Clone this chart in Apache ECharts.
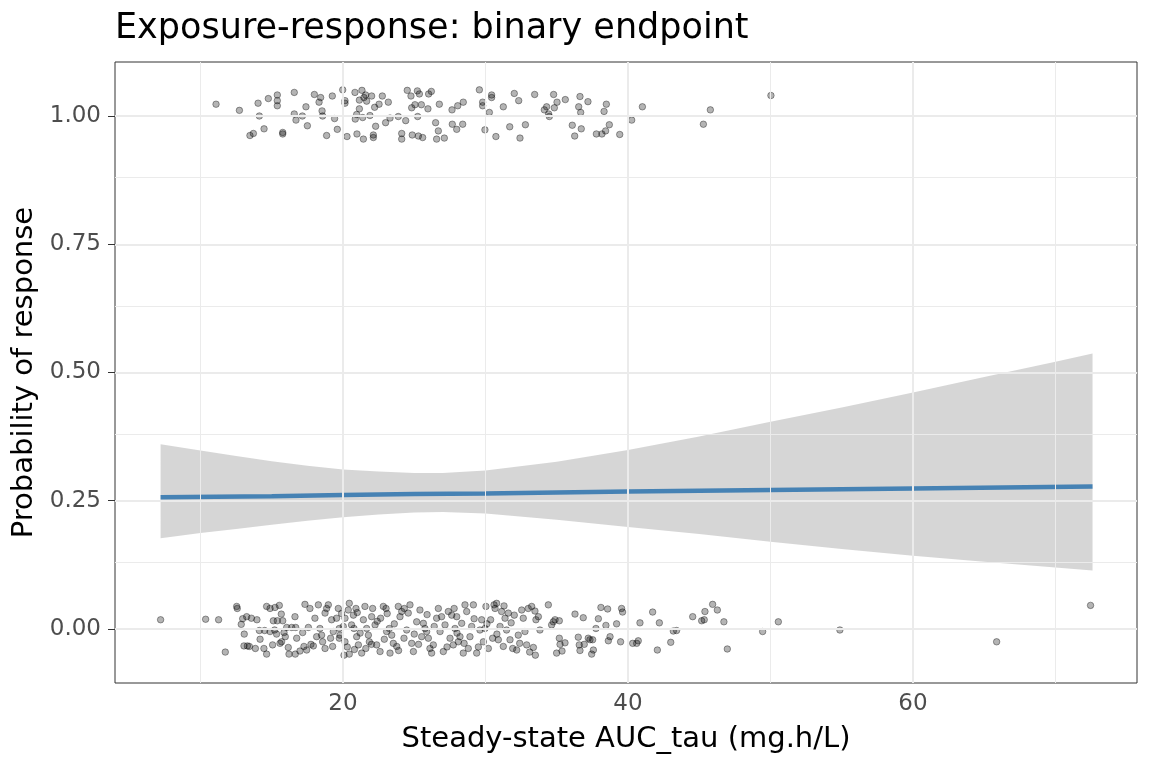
<!DOCTYPE html>
<html>
<head>
<meta charset="utf-8">
<script src="https://cdn.jsdelivr.net/npm/echarts@6/dist/echarts.min.js"></script>
<style>
html,body{margin:0;padding:0;background:#fff;}
#chart{width:1152px;height:768px;}
</style>
</head>
<body>
<div id="chart"></div>
<script>
// ---- data ----
const xTicks = [20, 40, 60];
const yTicks = [0, 0.25, 0.5, 0.75, 1];
const xMinorGrid = [10, 30, 50, 70];
const yMinorGrid = [0.125, 0.375, 0.625, 0.875];

// responders (y = 1, jittered)
const responders = [
[11.09,1.023],[12.73,1.011],[13.47,0.962],[13.71,0.966],[14.04,1.025],[14.13,1.000],[14.46,0.975],[14.76,1.034],[15.39,1.041],[15.39,1.030],[15.39,1.020],[15.77,0.968],[15.77,0.965],[16.58,1.046],[16.58,1.004],[16.70,0.992],[17.15,1.000],[17.40,1.018],[17.50,0.981],[17.99,1.042],[18.32,1.027],[18.43,1.036],[18.53,1.010],[18.57,1.000],[18.85,0.962],[19.25,1.039],[19.41,0.995],[19.60,0.974],[19.98,1.051],[20.14,1.030],[20.14,1.025],[20.28,0.960],[20.84,1.046],[20.86,0.994],[20.96,1.003],[20.98,0.965],[21.15,1.014],[21.15,1.031],[21.33,1.050],[21.38,0.997],[21.43,0.955],[21.47,1.036],[21.59,1.041],[21.66,1.029],[21.89,1.001],[22.01,1.039],[22.13,0.963],[22.13,0.958],[22.22,1.017],[22.29,0.980],[22.53,1.023],[22.76,1.039],[22.99,0.987],[23.18,1.027],[23.30,0.996],[23.88,0.999],[24.12,0.966],[24.12,0.955],[24.40,0.991],[24.51,1.050],[24.77,1.039],[24.82,1.016],[24.86,0.963],[25.05,1.022],[25.22,1.049],[25.24,0.999],[25.29,0.961],[25.36,1.043],[25.50,1.022],[25.59,0.958],[25.96,1.014],[26.01,1.043],[26.20,1.048],[26.50,0.987],[26.57,0.955],[26.69,0.971],[26.76,1.023],[27.11,0.957],[27.65,1.012],[27.67,0.984],[27.98,0.974],[28.05,1.020],[28.40,0.984],[28.44,1.027],[29.57,1.051],[29.80,1.027],[29.80,1.020],[29.96,0.973],[30.27,1.007],[30.43,1.041],[30.43,1.036],[30.73,0.960],
[31.25,1.018],[31.70,0.979],[32.02,1.044],[32.33,1.030],[32.42,0.957],[32.80,0.983],[33.45,1.042],[34.13,1.012],[34.29,1.018],[34.43,1.004],[34.48,0.999],[34.78,1.042],[34.83,1.016],[35.02,1.027],[35.60,1.032],[36.09,0.982],[36.26,0.961],[36.54,1.018],[36.63,1.038],[36.68,1.007],[36.72,0.975],[37.19,1.028],[37.78,0.965],[38.17,0.965],[38.32,1.009],[38.43,0.971],[38.48,1.023],[38.69,0.983],[39.42,0.964],[40.26,0.992],[41.01,1.018],[45.29,0.984],[45.78,1.012],[50.03,1.040]
];

// non-responders (y = 0, jittered)
const nonResponders = [
[7.20,0.018],[10.36,0.019],[11.27,0.018],[11.74,-0.045],[12.54,0.044],[12.58,0.040],[13.24,0.024],[13.07,-0.010],[12.86,0.009],[12.96,0.020],[13.57,0.021],[13.96,0.018],[14.13,-0.003],[14.18,-0.020],[14.64,0.044],[14.88,0.040],[15.23,0.042],[15.53,0.046],[15.67,0.029],[15.11,0.016],[15.39,0.016],[15.77,0.016],[13.05,-0.033],[13.29,-0.033],[13.43,-0.034],[13.85,-0.038],[14.50,-0.003],[14.45,-0.038],[14.64,-0.049],[15.06,-0.031],[14.88,-0.005],[15.20,-0.002],[15.34,-0.010],[15.58,-0.028],[15.69,-0.025],[15.86,-0.007],[16.05,0.003],[15.95,-0.015],[16.16,-0.036],[16.21,-0.049],[16.40,0.003],[16.63,0.024],[16.68,0.003],[16.75,-0.018],[16.65,-0.049],[16.98,-0.043],[17.17,-0.007],[17.26,-0.034],[17.33,0.048],[17.45,-0.041],[17.57,0.003],[17.68,0.040],[17.75,-0.030],[17.92,-0.033],[18.03,0.021],[18.15,-0.015],[18.27,0.047],[18.38,0.001],[18.50,-0.012],[18.57,-0.025],[18.74,-0.038],[18.74,0.031],[18.85,0.040],[18.97,0.047],[19.13,-0.018],[19.20,0.018],[19.27,-0.034],[19.32,-0.005],[19.55,0.021],[19.67,0.040],[19.74,0.001],[19.74,-0.018],
[20.44,0.050],[20.37,0.037],[20.14,0.021],[20.02,0.005],[19.79,-0.012],[20.14,-0.025],[20.07,-0.051],[20.44,-0.049],[20.73,0.027],[20.91,0.040],[20.77,0.001],[20.96,-0.015],[21.08,-0.031],[21.31,-0.047],[21.43,0.018],[21.54,0.044],[21.66,0.001],[21.78,-0.012],[21.85,-0.025],[22.01,0.024],[22.08,0.040],[22.25,0.008],[22.36,-0.031],[22.60,-0.044],[22.64,0.021],[22.83,0.044],[23.02,0.040],[23.06,-0.005],[23.25,0.001],[23.42,-0.012],[23.53,-0.028],[23.30,-0.047],[23.77,-0.034],[23.88,0.044],[24.00,0.024],[24.12,0.034],[24.28,-0.018],[24.47,-0.002],[24.58,0.031],[24.70,0.047],[24.82,-0.028],[24.94,-0.044],[25.17,0.014],[25.40,0.037],[25.52,-0.015],[25.64,0.011],[25.75,0.001],[25.87,-0.005],[25.99,-0.018],[26.10,-0.038],[26.22,-0.047],[26.34,-0.031],[26.57,0.021],[26.69,0.040],[26.81,-0.005],[26.92,0.024],[27.04,-0.044],[27.16,0.008],[27.39,0.034],[27.51,-0.018],[27.63,0.027],[27.74,-0.031],[27.86,0.001],[27.98,0.024],[28.09,-0.025],[28.21,-0.015],[28.33,0.011],[28.44,-0.047],[28.56,0.047],[28.68,0.034],[28.79,-0.038],[28.91,-0.015],[29.03,0.005],[29.15,0.047],[29.38,-0.047],[29.61,-0.002],[29.73,0.018],[29.85,-0.025],[29.96,0.001],[30.03,0.044],[30.20,-0.038],[30.36,0.018],[30.50,-0.018],[30.60,0.047],[30.67,0.040],[30.78,0.050],[30.90,-0.021],[31.02,0.005],[31.13,0.034],[31.25,-0.034],[31.37,0.021],[31.48,-0.002],[31.60,0.031],[31.72,-0.021],[31.91,-0.038],[32.02,0.027],[32.19,-0.041],[32.30,-0.012],[32.54,0.037],[32.65,0.021],[32.77,-0.005],[32.89,-0.031],[33.00,0.040],
[19.90,0.030],[20.30,-0.035],[20.60,0.008],[20.80,-0.040],[21.00,0.032],[21.20,-0.008],[21.60,-0.038],[22.00,-0.030],[22.40,0.015],[22.90,-0.020],[23.10,0.030],[23.60,0.010],[23.90,-0.042],[24.30,0.040],[25.00,-0.010],[25.30,-0.030],[25.90,0.028],[26.40,0.005],[27.30,-0.035],[27.80,0.040],[28.00,-0.008],[28.50,-0.028],[29.20,0.020],[29.50,-0.035],[30.10,0.010],[30.80,-0.010],[31.30,0.045],[31.80,0.012],[32.40,-0.028],[33.10,-0.045],
[33.24,0.044],[33.47,0.035],[33.54,0.018],[33.71,0.024],[33.82,-0.002],[33.36,-0.036],[33.50,-0.051],[34.41,0.047],[34.64,0.008],[34.88,0.018],[34.76,0.014],[35.18,0.016],[34.99,-0.047],[35.18,-0.018],[35.23,-0.030],[35.37,-0.043],[35.58,-0.027],[36.28,0.029],[36.51,-0.016],[36.58,-0.031],[36.63,-0.042],[36.86,0.022],[36.93,-0.030],[37.21,-0.018],[37.33,-0.021],[37.52,-0.021],[37.57,-0.041],[37.45,-0.049],[37.75,0.001],[37.92,0.020],[38.10,0.042],[38.45,0.007],[38.57,0.039],[38.62,-0.023],[38.74,-0.015],[39.20,0.010],[39.48,-0.025],[39.55,0.040],[39.62,0.033],[40.33,-0.028],[40.61,-0.028],[40.72,-0.023],[40.84,0.012],[41.73,0.033],[42.06,-0.041],[42.20,0.012],[43.00,-0.026],[43.18,-0.004],[43.41,-0.003],[44.54,0.024],[45.17,0.016],[45.35,0.018],[45.40,0.034],[45.94,0.048],[46.27,0.037],
[46.73,0.014],[46.97,-0.039],[49.45,-0.005],[50.55,0.014],[54.87,-0.002],[65.87,-0.025],[72.46,0.046]
];

// logistic fit and 95% band
const fitX     = [7.2,   15,    20,    25,    30,    40,    50,    60,    72.6];
const fitY     = [0.257, 0.259, 0.261, 0.263, 0.264, 0.268, 0.271, 0.274, 0.278];
const ribbonX     = [7.2,   10,    12.5,  15,    17.5,  20,    22.5,  25,    27,    30,    35,    40,    45,    50,    55,    60,    65,    70,    72.6];
const ribbonUpper = [0.360, 0.348, 0.337, 0.327, 0.318, 0.311, 0.307, 0.304, 0.304, 0.309, 0.326, 0.349, 0.375, 0.404, 0.432, 0.461, 0.491, 0.521, 0.537];
const ribbonLower = [0.177, 0.187, 0.195, 0.203, 0.211, 0.218, 0.223, 0.227, 0.228, 0.225, 0.213, 0.199, 0.185, 0.170, 0.156, 0.143, 0.131, 0.120, 0.114];

// ---- chart ----
const FONT = 'DejaVu Sans';
const chart = echarts.init(document.getElementById('chart'));

const gridLines = [];
xTicks.forEach(v => gridLines.push({xAxis: v, lineStyle: {width: 2}}));
xMinorGrid.forEach(v => gridLines.push({xAxis: v, lineStyle: {width: 1}}));
yTicks.forEach(v => gridLines.push({yAxis: v, lineStyle: {width: 2}}));
yMinorGrid.forEach(v => gridLines.push({yAxis: v, lineStyle: {width: 1}}));

const pointStyle = {color: 'rgba(0,0,0,0.37)', borderColor: 'rgba(0,0,0,0.45)', borderWidth: 1};

const option = {
  animation: false,
  backgroundColor: '#ffffff',
  title: {
    text: 'Exposure-response: binary endpoint',
    left: 110, top: 6,
    textStyle: {fontFamily: FONT, fontSize: 35, fontWeight: 'normal', color: '#000'}
  },
  grid: {
    left: 115, top: 62, width: 1022, height: 621,
    show: true, borderColor: '#333333', borderWidth: 1, backgroundColor: 'transparent'
  },
  xAxis: {
    type: 'value', min: 4, max: 75.72,
    name: 'Steady-state AUC_tau (mg.h/L)', nameLocation: 'middle', nameGap: 42,
    nameTextStyle: {fontFamily: FONT, fontSize: 29, color: '#000'},
    axisLine: {show: false},
    axisTick: {show: true, length: 7, customValues: xTicks, lineStyle: {color: '#333333', width: 1}},
    axisLabel: {customValues: xTicks, margin: 10, fontFamily: FONT, fontSize: 23, color: '#4D4D4D'},
    splitLine: {show: false}
  },
  yAxis: {
    type: 'value', min: -0.1053, max: 1.1053,
    name: 'Probability of response', nameLocation: 'middle', nameGap: 65,
    nameTextStyle: {fontFamily: FONT, fontSize: 29, color: '#000'},
    axisLine: {show: false},
    axisTick: {show: true, length: 7, customValues: yTicks, lineStyle: {color: '#333333', width: 1}},
    axisLabel: {customValues: yTicks, margin: 14, fontFamily: FONT, fontSize: 23, color: '#4D4D4D',
      formatter: v => Number(v).toFixed(2)},
    splitLine: {show: false}
  },
  series: [
    {
      type: 'line', data: [], z: 1, silent: true,
      markLine: {
        silent: true, symbol: ['none', 'none'], animation: false,
        label: {show: false},
        lineStyle: {color: '#EBEBEB', type: 'solid'},
        emphasis: {disabled: true},
        data: gridLines
      }
    },
    {
      type: 'custom', z: 2, silent: true,
      data: ribbonX.map((x, i) => [x, ribbonLower[i], ribbonUpper[i]]),
      encode: {x: 0, y: [1, 2]},
      renderItem: function (params, api) {
        if (params.dataIndex !== 0) return null;
        const pts = [];
        for (let i = 0; i < ribbonX.length; i++) pts.push(api.coord([ribbonX[i], ribbonUpper[i]]));
        for (let i = ribbonX.length - 1; i >= 0; i--) pts.push(api.coord([ribbonX[i], ribbonLower[i]]));
        return {type: 'polygon', shape: {points: pts}, style: {fill: 'rgba(153,153,153,0.4)'}};
      }
    },
    {
      type: 'scatter', z: 3, data: responders, symbolSize: 6.5,
      itemStyle: pointStyle
    },
    {
      type: 'scatter', z: 3, data: nonResponders, symbolSize: 6.5,
      itemStyle: pointStyle
    },
    {
      type: 'line', z: 4, data: fitX.map((x, i) => [x, fitY[i]]),
      showSymbol: false, symbol: 'none',
      lineStyle: {color: '#4682B4', width: 4.5}
    }
  ]
};
chart.setOption(option);
</script>
</body>
</html>
